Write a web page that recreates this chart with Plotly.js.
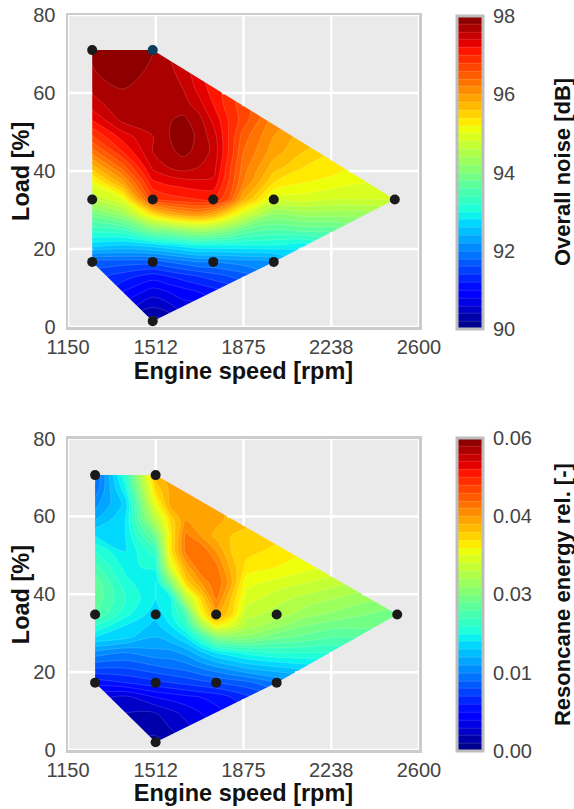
<!DOCTYPE html>
<html><head><meta charset="utf-8">
<script src="https://cdn.plot.ly/plotly-3.0.1.min.js"></script>
<style>html,body{margin:0;padding:0;background:#fff;}#chart{width:574px;height:809px;}</style>
</head><body><div id="chart"></div>
<script>
// ---------- measured operating points ----------
const speedNoise = [1250, 1500, 1250, 1500, 1750, 2000, 2500, 1250, 1500, 1750, 2000, 1500];
const loadNoise  = [71, 71, 32.7, 32.7, 32.7, 32.7, 32.7, 16.7, 16.7, 16.7, 16.7, 1.5];
const speedRes   = [1262, 1512, 1262, 1512, 1762, 2012, 2510, 1262, 1512, 1762, 2012, 1512];
const loadRes    = [70.6, 70.6, 34.8, 34.8, 34.8, 34.8, 34.8, 17.3, 17.3, 17.3, 17.3, 2.0];
const pointColorNoise = ['#1a1a1a','#0c3d5e','#1a1a1a','#1a1a1a','#1a1a1a','#1a1a1a','#1a1a1a','#1a1a1a','#1a1a1a','#1a1a1a','#1a1a1a','#1a1a1a'];

// ---------- field (overall noise, dB) ----------
const gridSpeedNoise = [1250, 1375, 1500, 1562.5, 1625, 1687.5, 1750, 1812.5, 1875, 2000, 2125, 2250, 2375, 2500];
const gridLoadNoise  = [1.5, 5, 9, 13, 16.7, 21, 25, 29, 32.7, 37, 41, 45, 49, 53, 57, 61, 65, 71];
const noiseField = [
  [null, 90.3, 90.1, 90.2, 90.5, null, null, null, null, null, null, null, null, null],
  [null, 90.7, 90.4, 90.5, 90.7, 90.7, 90.9, null, null, null, null, null, null, null],
  [91.4, 91.0, 90.7, 90.8, 90.9, 91.0, 91.1, 91.2, 91.4, null, null, null, null, null],
  [91.5, 91.3, 91.1, 91.2, 91.3, 91.4, 91.5, 91.6, 91.7, 92.0, null, null, null, null],
  [91.7, 91.7, 91.7, 91.8, 91.9, 92.0, 92.0, 92.05, 92.1, 92.2, 92.6, null, null, null],
  [92.7, 92.6, 92.7, 92.8, 92.9, 93.0, 93.0, 93.0, 93.0, 93.0, 92.9, 93.2, null, null],
  [93.3, 93.4, 94.0, 94.1, 94.3, 94.4, 94.3, 94.1, 93.8, 93.6, 93.7, 93.7, 93.9, null],
  [93.9, 94.3, 95.4, 95.8, 96.0, 96.1, 95.9, 95.4, 94.9, 94.2, 94.3, 94.3, 94.3, 94.4],
  [94.6, 95.0, 96.75, 96.9, 96.95, 97.0, 97.0, 96.6, 95.8, 94.9, 94.9, 94.8, 94.8, 94.8],
  [95.05, 95.9, 97.15, 97.25, 97.3, 97.35, 97.35, 96.8, 96.2, 95.4, 95.2, 95.1, 95.0, 94.95],
  [95.7, 96.5, 97.45, 97.6, 97.7, 97.6, 97.5, 96.9, 96.3, 95.7, 95.4, 95.3, 95.1, null],
  [96.3, 97.0, 97.6, 97.75, 97.85, 97.75, 97.55, 97.0, 96.4, 95.9, 95.6, 95.4, null, null],
  [96.8, 97.3, 97.6, 97.78, 97.95, 97.75, 97.5, 97.0, 96.5, 96.0, 95.7, null, null, null],
  [97.2, 97.65, 97.7, 97.78, 97.85, 97.7, 97.35, 97.0, 96.7, 96.1, null, null, null, null],
  [97.5, 97.75, 97.75, 97.75, 97.7, 97.5, 97.2, 96.9, 96.7, null, null, null, null, null],
  [97.65, 97.8, 97.75, 97.7, 97.6, 97.35, 97.1, 96.9, null, null, null, null, null, null],
  [97.77, 97.95, 97.72, 97.7, 97.5, 97.3, 97.0, null, null, null, null, null, null, null],
  [97.85, 98.0, 97.82, 97.6, 97.4, null, null, null, null, null, null, null, null, null]
];

// ---------- field (resonance energy rel.) ----------
const gridSpeedRes = [1262, 1387, 1512, 1574, 1637, 1699, 1762, 1824, 1887, 2012, 2137, 2262, 2387, 2510];
const gridLoadRes  = [2, 5.5, 9.5, 13.5, 17.3, 21, 25, 29, 32, 34.8, 39, 43, 47, 51, 55, 59, 63, 67, 70.6];
const resField = [
  [null, 0.0015, 0.001, 0.002, 0.003, null, null, null, null, null, null, null, null, null],
  [null, 0.002, 0.002, 0.003, 0.004, 0.005, 0.006, null, null, null, null, null, null, null],
  [0.004, 0.003, 0.003, 0.004, 0.005, 0.006, 0.007, 0.008, 0.009, null, null, null, null, null],
  [0.005, 0.004, 0.006, 0.0065, 0.007, 0.0075, 0.008, 0.009, 0.010, 0.012, null, null, null, null],
  [0.008, 0.009, 0.010, 0.0105, 0.011, 0.0115, 0.012, 0.0125, 0.013, 0.015, 0.016, null, null, null],
  [0.012, 0.012, 0.013, 0.0135, 0.014, 0.015, 0.016, 0.017, 0.018, 0.019, 0.020, 0.021, null, null],
  [0.016, 0.015, 0.016, 0.016, 0.017, 0.019, 0.021, 0.022, 0.023, 0.024, 0.024, 0.024, 0.025, null],
  [0.021, 0.020, 0.018, 0.019, 0.021, 0.025, 0.030, 0.031, 0.031, 0.029, 0.028, 0.027, 0.027, null],
  [0.024, 0.021, 0.019, 0.021, 0.024, 0.032, 0.039, 0.037, 0.034, 0.032, 0.030, 0.029, 0.029, 0.028],
  [0.027, 0.023, 0.020, 0.022, 0.026, 0.038, 0.044, 0.041, 0.035, 0.034, 0.032, 0.031, 0.030, 0.029],
  [0.028, 0.024, 0.021, 0.022, 0.034, 0.041, 0.047, 0.042, 0.037, 0.035, 0.034, 0.033, 0.032, 0.031],
  [0.028, 0.023, 0.021, 0.030, 0.041, 0.045, 0.048, 0.044, 0.038, 0.037, 0.036, 0.035, 0.034, null],
  [0.026, 0.022, 0.023, 0.037, 0.044, 0.048, 0.047, 0.043, 0.040, 0.039, 0.038, 0.037, null, null],
  [0.024, 0.021, 0.025, 0.040, 0.047, 0.048, 0.045, 0.042, 0.041, 0.040, 0.039, null, null, null],
  [0.021, 0.021, 0.029, 0.040, 0.047, 0.045, 0.043, 0.042, 0.041, 0.041, null, null, null, null],
  [0.018, 0.021, 0.034, 0.041, 0.045, 0.045, 0.044, 0.043, 0.043, null, null, null, null, null],
  [0.016, 0.020, 0.038, 0.044, 0.044, 0.044, 0.044, null, null, null, null, null, null, null],
  [0.014, 0.022, 0.041, 0.044, 0.044, 0.044, null, null, null, null, null, null, null, null],
  [0.013, 0.024, 0.043, 0.044, 0.044, null, null, null, null, null, null, null, null, null]
];

// ---------- ticks ----------
const speedTickVals = [1150, 1512.5, 1875, 2237.5, 2600];
const speedTickText = ['1150', '1512', '1875', '2238', '2600'];
const loadTickVals  = [0, 20, 40, 60, 80];
const noiseTickVals = [90, 92, 94, 96, 98];
const resTickVals   = [0, 0.015, 0.03, 0.045, 0.06];
const resTickText   = ['0.00', '0.01', '0.03', '0.04', '0.06'];
const speedRange = [1150, 2600];
const loadRange = [0, 80];

// ---------- styling ----------
const FONT = 'Liberation Sans, Arial, Helvetica, sans-serif';
const BG = '#EAEAEA';
const jet = [
  [0, 'rgb(0,0,128)'], [0.11, 'rgb(0,0,255)'], [0.125, 'rgb(0,0,255)'],
  [0.34, 'rgb(0,219,255)'], [0.35, 'rgb(0,230,247)'], [0.375, 'rgb(21,255,226)'],
  [0.64, 'rgb(239,255,8)'], [0.65, 'rgb(247,245,0)'], [0.66, 'rgb(255,236,0)'],
  [0.89, 'rgb(255,19,0)'], [0.91, 'rgb(232,0,0)'], [1, 'rgb(128,0,0)']
];

function convexHull(xs, ys) {
  const pts = xs.map((x, i) => [x, ys[i]]).sort((a, b) => a[0] - b[0] || a[1] - b[1]);
  const cross = (o, a, b) => (a[0] - o[0]) * (b[1] - o[1]) - (a[1] - o[1]) * (b[0] - o[0]);
  const lower = [], upper = [];
  for (const p of pts) { while (lower.length >= 2 && cross(lower[lower.length - 2], lower[lower.length - 1], p) <= 0) lower.pop(); lower.push(p); }
  for (let i = pts.length - 1; i >= 0; i--) { const p = pts[i]; while (upper.length >= 2 && cross(upper[upper.length - 2], upper[upper.length - 1], p) <= 0) upper.pop(); upper.push(p); }
  upper.pop(); lower.pop();
  return lower.concat(upper); // counter-clockwise
}

// background-coloured cover for everything outside the measured hull
function maskTrace(hull, xr, yr, xa, ya) {
  const x0 = xr[0] - 50, x1 = xr[1] + 50, y0 = yr[0] - 5, y1 = yr[1] + 5;
  const xs = [x0, x1, x1, x0, x0], ys = [y0, y0, y1, y1, y0];
  const rev = [hull[0]].concat(hull.slice(1).reverse(), [hull[0]]);
  rev.forEach(p => { xs.push(p[0]); ys.push(p[1]); });
  xs.push(x0); ys.push(y0);
  return { type: 'scatter', mode: 'lines', x: xs, y: ys, fill: 'toself', fillcolor: BG,
           line: { width: 0, color: BG }, hoverinfo: 'skip', showlegend: false, xaxis: xa, yaxis: ya };
}

// white grid lines, only where the background shows
function gridTrace(hull, xr, yr, xt, yt, xa, ya) {
  const xs = [], ys = [];
  const n = hull.length;
  function cut(c, vertical) {
    const hits = [];
    const ka = vertical ? 0 : 1, kb = vertical ? 1 : 0;
    for (let i = 0; i < n; i++) {
      const a = hull[i], b = hull[(i + 1) % n];
      if ((a[ka] - c) * (b[ka] - c) <= 0 && a[ka] !== b[ka]) {
        hits.push(a[kb] + (c - a[ka]) / (b[ka] - a[ka]) * (b[kb] - a[kb]));
      }
    }
    const range = vertical ? yr : xr;
    if (!hits.length) return [[range[0], range[1]]];
    return [[range[0], Math.min(...hits)], [Math.max(...hits), range[1]]];
  }
  xt.forEach(c => cut(c, true).forEach(s => { xs.push(c, c, null); ys.push(s[0], s[1], null); }));
  yt.forEach(c => cut(c, false).forEach(s => { xs.push(s[0], s[1], null); ys.push(c, c, null); }));
  return { type: 'scatter', mode: 'lines', x: xs, y: ys, line: { color: '#FFFFFF', width: 2.5 },
           hoverinfo: 'skip', showlegend: false, connectgaps: false, xaxis: xa, yaxis: ya };
}

const hullNoise = convexHull(speedNoise, loadNoise);
const hullRes = convexHull(speedRes, loadRes);

const tickFont = { family: FONT, size: 20, color: '#444444' };
const cbCommon = { x: 1.108, xanchor: 'left', xpad: 0, ypad: 0, len: 313, lenmode: 'pixels', thickness: 26,
  outlinewidth: 3, outlinecolor: '#BDBDBD', ticks: 'outside', ticklen: 5, tickcolor: 'rgba(0,0,0,0)', tickfont: tickFont };

const data = [
  { type: 'contour', x: gridSpeedNoise, y: gridLoadNoise, z: noiseField, connectgaps: true,
    colorscale: jet, zmin: 90, zmax: 98, autocontour: false,
    contours: { start: 90, end: 98, size: 0.2, coloring: 'fill', showlines: true },
    line: { width: 0.5, color: 'rgba(255,255,255,0.3)', smoothing: 0.9 },
    colorbar: Object.assign({}, cbCommon, { y: 0.7857, yanchor: 'middle', tickvals: noiseTickVals }),
    hoverinfo: 'skip', xaxis: 'x', yaxis: 'y' },
  { type: 'contour', x: gridSpeedRes, y: gridLoadRes, z: resField, connectgaps: true,
    colorscale: jet, zmin: 0, zmax: 0.06, autocontour: false,
    contours: { start: 0, end: 0.06, size: 0.0015, coloring: 'fill', showlines: true },
    line: { width: 0.5, color: 'rgba(255,255,255,0.3)', smoothing: 0.9 },
    colorbar: Object.assign({}, cbCommon, { y: 0.2116, yanchor: 'middle', tickvals: resTickVals, ticktext: resTickText }),
    hoverinfo: 'skip', xaxis: 'x2', yaxis: 'y2' },
  maskTrace(hullNoise, speedRange, loadRange, 'x', 'y'),
  maskTrace(hullRes, speedRange, loadRange, 'x2', 'y2'),
  gridTrace(hullNoise, speedRange, loadRange, speedTickVals, loadTickVals, 'x', 'y'),
  gridTrace(hullRes, speedRange, loadRange, speedTickVals, loadTickVals, 'x2', 'y2'),
  { type: 'scatter', mode: 'markers', x: speedNoise, y: loadNoise,
    marker: { size: 10, color: pointColorNoise }, hoverinfo: 'x+y', showlegend: false, xaxis: 'x', yaxis: 'y' },
  { type: 'scatter', mode: 'markers', x: speedRes, y: loadRes,
    marker: { size: 10, color: '#1a1a1a' }, hoverinfo: 'x+y', showlegend: false, xaxis: 'x2', yaxis: 'y2' }
];

const titleFont = { family: FONT, size: 23.5, color: '#111111', weight: 'bold' };
const axisBase = {
  showgrid: true, gridcolor: '#FFFFFF', gridwidth: 2.5, zeroline: false,
  showline: true, mirror: true, linecolor: '#CCCCCC', linewidth: 2.5,
  ticks: 'outside', tickcolor: 'rgba(0,0,0,0)', tickfont: tickFont, fixedrange: true
};
const xAx = (anchor) => Object.assign({}, axisBase, { anchor: anchor, domain: [0, 1], range: speedRange,
  ticklen: 0, tickmode: 'array', tickvals: speedTickVals, ticktext: speedTickText,
  title: { text: 'Engine speed [rpm]', font: titleFont, standoff: 5 } });
const yAx = (anchor, dom) => Object.assign({}, axisBase, { anchor: anchor, domain: dom, range: loadRange,
  ticklen: 6, tickmode: 'array', tickvals: loadTickVals });

const sideTitle = (text, x, y, size) => ({ text: text, xref: 'paper', yref: 'paper', x: x, y: y,
  xanchor: 'center', yanchor: 'middle', textangle: -90, showarrow: false,
  font: { family: FONT, size: size, color: '#111111', weight: 'bold' } });

const layout = {
  width: 574, height: 809,
  margin: { l: 68, r: 155, t: 15, b: 59 },
  paper_bgcolor: '#FFFFFF', plot_bgcolor: BG,
  font: { family: FONT, color: '#444444' },
  showlegend: false,
  xaxis: xAx('y'), yaxis: yAx('x', [0.5755, 1]),
  xaxis2: xAx('y2'), yaxis2: yAx('x2', [0, 0.4238]),
  annotations: [
    sideTitle('Load [%]', -0.134, 0.7878, 23.5),
    sideTitle('Load [%]', -0.134, 0.2119, 23.5),
    sideTitle('Overall noise [dB]', 1.409, 0.7857, 22),
    sideTitle('Resoncane energy rel. [-]', 1.409, 0.2116, 22)
  ]
};

Plotly.newPlot('chart', data, layout, { displayModeBar: false, staticPlot: true });
</script></body></html>
